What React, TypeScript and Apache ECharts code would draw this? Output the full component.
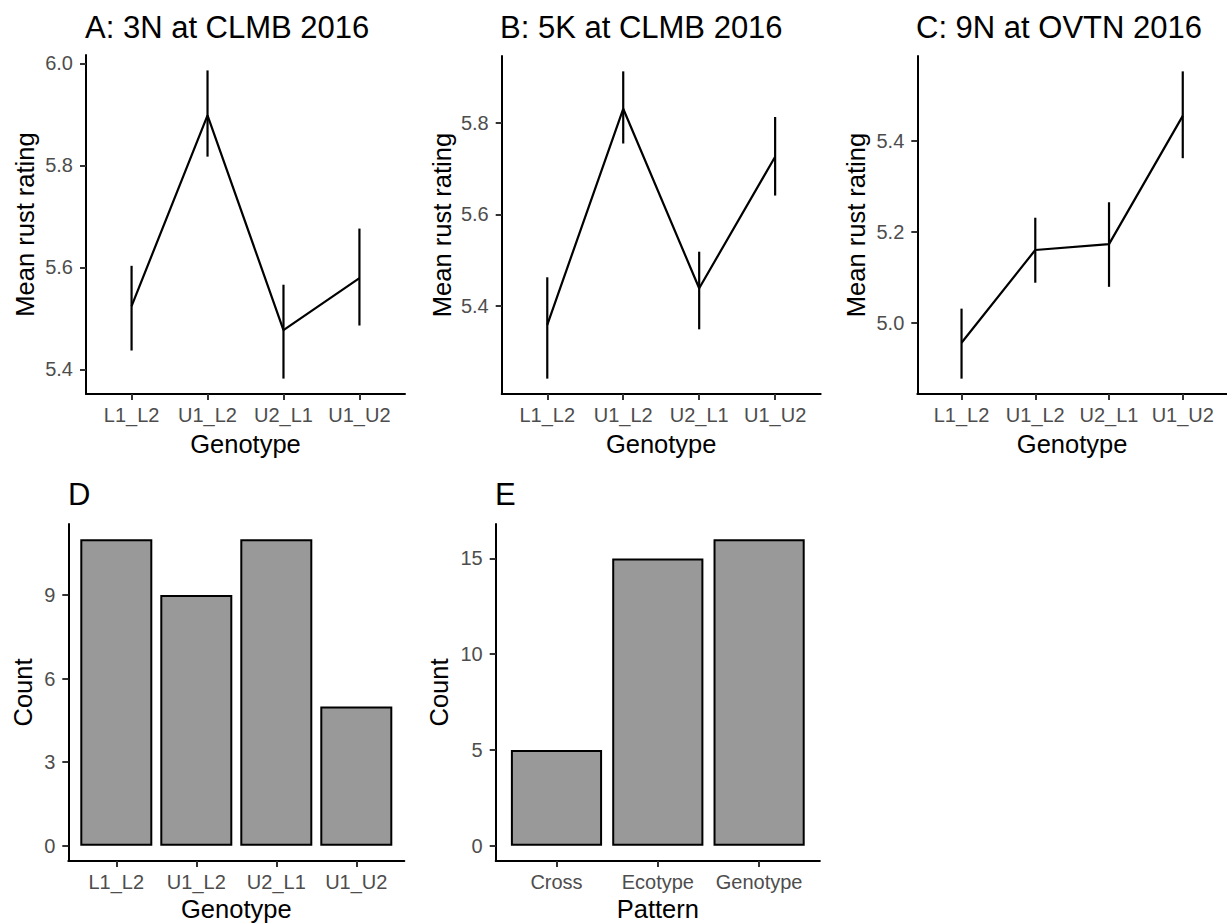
import React, { useEffect, useRef } from "react";
import * as echarts from "echarts";

const genotypes = ["L1_L2", "U1_L2", "U2_L1", "U1_U2"];
const patterns = ["Cross", "Ecotype", "Genotype"];

const meanA = [5.524, 5.898, 5.477, 5.579];
const lowA = [5.437, 5.817, 5.382, 5.486];
const highA = [5.603, 5.986, 5.566, 5.676];

const meanB = [5.358, 5.831, 5.438, 5.726];
const lowB = [5.24, 5.755, 5.348, 5.641];
const highB = [5.462, 5.913, 5.518, 5.813];

const meanC = [4.956, 5.16, 5.173, 5.455];
const lowC = [4.877, 5.088, 5.079, 5.362];
const highC = [5.031, 5.231, 5.265, 5.553];

const countD = [11, 9, 11, 5];
const countE = [5, 15, 16];

const ticksA = [5.4, 5.6, 5.8, 6.0];
const ticksB = [5.4, 5.6, 5.8];
const ticksC = [5.0, 5.2, 5.4];
const ticksD = [0, 3, 6, 9];
const ticksE = [0, 5, 10, 15];

const titles = ["A: 3N at CLMB 2016", "B: 5K at CLMB 2016", "C: 9N at OVTN 2016", "D", "E"];

const FONT = "'Liberation Sans', Arial, sans-serif";

function expand(lo: number, hi: number) {
  const r = hi - lo;
  return [lo - r * 0.05, hi + r * 0.05];
}

export default function App() {
  const ref = useRef<HTMLDivElement>(null);
  useEffect(() => {
    if (!ref.current) return;
    const chart = echarts.init(ref.current, null, { renderer: "svg" });

    const grids = [
      { left: 86, top: 55, width: 319, height: 339 },
      { left: 501.7, top: 56, width: 319, height: 338 },
      { left: 917.3, top: 56, width: 319, height: 338 },
      { left: 68.3, top: 524, width: 336, height: 338.3 },
      { left: 495.7, top: 524, width: 324.2, height: 338.3 },
    ];

    const yRanges = [
      expand(Math.min(...lowA), Math.max(...highA)),
      expand(Math.min(...lowB), Math.max(...highB)),
      expand(Math.min(...lowC), Math.max(...highC)),
      expand(0, Math.max(...countD)),
      expand(0, Math.max(...countE)),
    ];
    const yTicks = [ticksA, ticksB, ticksC, ticksD, ticksE];
    const cats = [genotypes, genotypes, genotypes, genotypes, patterns];
    const xNames = ["Genotype", "Genotype", "Genotype", "Genotype", "Pattern"];
    const yNames = ["Mean rust rating", "Mean rust rating", "Mean rust rating", "Count", "Count"];
    const yNameGaps = [48, 47, 48, 32, 44];
    const xNameGaps = [37, 37, 37, 35, 35];

    const axisLine = { show: true, onZero: false, lineStyle: { color: "#000", width: 2 } };
    const axisTickBase = { show: true, length: 6, lineStyle: { color: "#333333", width: 2 } };

    const xAxis = cats.map((c, i) => ({
      type: "value",
      gridIndex: i,
      min: 0.4,
      max: c.length + 0.6,
      splitLine: { show: false },
      axisLine,
      axisTick: { ...axisTickBase, customValues: c.map((_, k) => k + 1) },
      axisLabel: {
        customValues: c.map((_, k) => k + 1),
        formatter: (v: number) => c[Math.round(v) - 1] ?? "",
        color: "#4D4D4D",
        fontSize: 20,
        fontFamily: FONT,
        margin: 11,
      },
      name: xNames[i],
      nameLocation: "middle",
      nameGap: xNameGaps[i],
      nameTextStyle: { color: "#000", fontSize: 25.5, fontFamily: FONT },
    }));

    const yAxis = yRanges.map((r, i) => ({
      type: "value",
      gridIndex: i,
      min: r[0],
      max: r[1],
      splitLine: { show: false },
      axisLine,
      axisTick: { ...axisTickBase, customValues: yTicks[i] },
      axisLabel: {
        customValues: yTicks[i],
        formatter: (v: number) => (i < 3 ? v.toFixed(1) : String(Math.round(v))),
        color: "#4D4D4D",
        fontSize: 20,
        fontFamily: FONT,
        margin: 13,
      },
      name: yNames[i],
      nameLocation: "middle",
      nameGap: yNameGaps[i],
      nameTextStyle: { color: "#000", fontSize: 25.5, fontFamily: FONT },
    }));

    const lineSets = [
      [meanA, lowA, highA],
      [meanB, lowB, highB],
      [meanC, lowC, highC],
    ];

    const series: any[] = [];
    lineSets.forEach(([m, lo, hi], i) => {
      series.push({
        type: "line",
        xAxisIndex: i,
        yAxisIndex: i,
        data: m.map((v, k) => [k + 1, v]),
        symbol: "none",
        lineStyle: { color: "#000", width: 2.2 },
        z: 3,
      });
      series.push({
        type: "custom",
        xAxisIndex: i,
        yAxisIndex: i,
        data: lo.map((v, k) => [k + 1, v, hi[k]]),
        renderItem: (params: any, api: any) => {
          const x = api.value(0);
          const p1 = api.coord([x, api.value(1)]);
          const p2 = api.coord([x, api.value(2)]);
          return {
            type: "line",
            shape: { x1: p1[0], y1: p1[1], x2: p2[0], y2: p2[1] },
            style: { stroke: "#000", lineWidth: 2.2 },
          };
        },
        z: 4,
      });
    });

    [countD, countE].forEach((counts, j) => {
      const i = 3 + j;
      const g = grids[i];
      const unit = g.width / (cats[i].length + 0.2);
      series.push({
        type: "bar",
        xAxisIndex: i,
        yAxisIndex: i,
        data: counts.map((v, k) => [k + 1, v]),
        barWidth: unit * 0.9,
        itemStyle: { color: "#999999", borderColor: "#000", borderWidth: 2 },
      });
    });

    const titlePos = [
      [85, 27],
      [500, 27],
      [916, 27],
      [68, 494],
      [495, 494],
    ];

    chart.setOption({
      animation: false,
      backgroundColor: "#fff",
      grid: grids,
      xAxis,
      yAxis,
      series,
      graphic: titles.map((t, i) => ({
        type: "text",
        x: titlePos[i][0],
        y: titlePos[i][1],
        style: {
          text: t,
          fontSize: 31,
          fontFamily: FONT,
          fill: "#000",
          align: "left",
          verticalAlign: "middle",
        },
      })),
    });
    return () => chart.dispose();
  }, []);
  return (
    <div
      ref={ref}
      style={{ position: "absolute", left: 0, top: 0, width: 1227, height: 923 }}
    />
  );
}
